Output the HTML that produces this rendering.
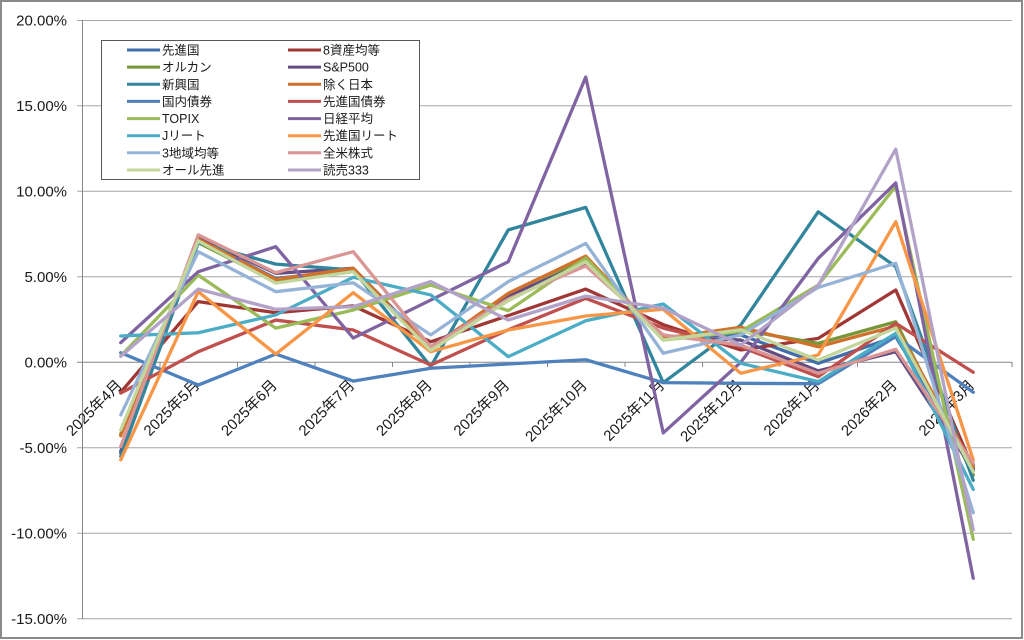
<!DOCTYPE html>
<html><head><meta charset="utf-8"><style>
html,body{margin:0;padding:0;background:#fff;}
svg{display:block;}
text{font-family:"Liberation Sans","Noto Sans CJK JP",sans-serif;fill:#1a1a1a;}
</style></head><body>
<svg width="1024" height="640" viewBox="0 0 1024 640" xmlns="http://www.w3.org/2000/svg">
<rect x="0" y="0" width="1024" height="640" fill="#fff"/>
<rect x="1" y="1" width="1021" height="637" fill="none" stroke="#8a8a8a" stroke-width="2"/>
<g stroke="#a6a6a6" stroke-width="1">
<line x1="77" y1="20.5" x2="1012" y2="20.5"/>
<line x1="77" y1="105.8" x2="1012" y2="105.8"/>
<line x1="77" y1="191.3" x2="1012" y2="191.3"/>
<line x1="77" y1="276.8" x2="1012" y2="276.8"/>
<line x1="77" y1="447.8" x2="1012" y2="447.8"/>
<line x1="77" y1="533.3" x2="1012" y2="533.3"/>
<line x1="77" y1="618.8" x2="1012" y2="618.8"/>
</g>
<g stroke="#868686" stroke-width="1">
<line x1="82.5" y1="20" x2="82.5" y2="619"/>
<line x1="77" y1="362.3" x2="1012" y2="362.3"/>
<line x1="160" y1="362" x2="160" y2="367"/>
<line x1="237.5" y1="362" x2="237.5" y2="367"/>
<line x1="315" y1="362" x2="315" y2="367"/>
<line x1="392.5" y1="362" x2="392.5" y2="367"/>
<line x1="470" y1="362" x2="470" y2="367"/>
<line x1="547.5" y1="362" x2="547.5" y2="367"/>
<line x1="625" y1="362" x2="625" y2="367"/>
<line x1="702.5" y1="362" x2="702.5" y2="367"/>
<line x1="780" y1="362" x2="780" y2="367"/>
<line x1="857.5" y1="362" x2="857.5" y2="367"/>
<line x1="935" y1="362" x2="935" y2="367"/>
<line x1="1012" y1="362" x2="1012" y2="367"/>
</g>
<g font-size="15" text-anchor="end">
<text x="67" y="25.5">20.00%</text>
<text x="67" y="111">15.00%</text>
<text x="67" y="196.5">10.00%</text>
<text x="67" y="282">5.00%</text>
<text x="67" y="367.5">0.00%</text>
<text x="67" y="453">-5.00%</text>
<text x="67" y="538.5">-10.00%</text>
<text x="67" y="624">-15.00%</text>
</g>
<g font-size="15" text-anchor="end">
<text transform="translate(123,386) rotate(-45)">2025年4月</text>
<text transform="translate(200.5,386) rotate(-45)">2025年5月</text>
<text transform="translate(278,386) rotate(-45)">2025年6月</text>
<text transform="translate(355.5,386) rotate(-45)">2025年7月</text>
<text transform="translate(433,386) rotate(-45)">2025年8月</text>
<text transform="translate(510.5,386) rotate(-45)">2025年9月</text>
<text transform="translate(588,386) rotate(-45)">2025年10月</text>
<text transform="translate(665.5,386) rotate(-45)">2025年11月</text>
<text transform="translate(743,386) rotate(-45)">2025年12月</text>
<text transform="translate(820.5,386) rotate(-45)">2026年1月</text>
<text transform="translate(898,386) rotate(-45)">2026年2月</text>
<text transform="translate(975.5,386) rotate(-45)">2026年3月</text>
</g>
<g transform="matrix(77.5,0,0,-17.1,120.75,362.3)" fill="none" stroke-linejoin="round" stroke-linecap="round">
<g stroke-width="3.3">
<polyline vector-effect="non-scaling-stroke" stroke="#3f6eaa" points="0,-5.2 1,7.2 2,4.9 3,5.4 4,0.9 5,3.8 6,6.0 7,1.5 8,1.6 9,-0.06 10,1.5 11,-6.0"/>
<polyline vector-effect="non-scaling-stroke" stroke="#a03734" points="0,-1.75 1,3.55 2,2.9 3,3.3 4,1.2 5,2.73 6,4.28 7,2.2 8,0.72 9,1.4 10,4.23 11,-6.2"/>
<polyline vector-effect="non-scaling-stroke" stroke="#77963a" points="0,-4.2 1,7.0 2,4.7 3,5.3 4,0.8 5,3.8 6,6.0 7,1.4 8,1.9 9,1.11 10,2.37 11,-6.6"/>
<polyline vector-effect="non-scaling-stroke" stroke="#634c82" points="0,-5.3 1,7.3 2,5.2 3,5.5 4,0.9 5,3.9 6,5.8 7,1.5 8,1.3 9,-0.5 10,0.62 11,-6.3"/>
<polyline vector-effect="non-scaling-stroke" stroke="#31859c" points="0,-5.5 1,7.0 2,5.74 3,5.4 4,-0.25 5,7.74 6,9.06 7,-1.19 8,2.18 9,8.8 10,5.59 11,-6.9"/>
<polyline vector-effect="non-scaling-stroke" stroke="#d0722c" points="0,-4.3 1,7.2 2,4.85 3,5.5 4,0.8 5,4.03 6,6.21 7,1.4 8,2.05 9,0.91 10,2.12 11,-6.1"/>
<polyline vector-effect="non-scaling-stroke" stroke="#4f81bd" points="0,0.56 1,-1.33 2,0.48 3,-1.1 4,-0.35 5,-0.1 6,0.15 7,-1.19 8,-1.23 9,-1.25 10,1.5 11,-1.75"/>
<polyline vector-effect="non-scaling-stroke" stroke="#c0504d" points="0,-1.8 1,0.62 2,2.47 3,1.89 4,-0.16 5,1.9 6,3.74 7,2.0 8,0.9 9,-0.84 10,2.28 11,-0.58"/>
<polyline vector-effect="non-scaling-stroke" stroke="#9bbb59" points="0,0.37 1,5.1 2,2.0 3,3.06 4,4.52 5,3.02 6,6.1 7,1.3 8,1.8 9,4.52 10,10.3 11,-10.35"/>
<polyline vector-effect="non-scaling-stroke" stroke="#8064a2" points="0,1.15 1,5.3 2,6.76 3,1.42 4,3.64 5,5.88 6,16.68 7,-4.13 8,0.0 9,6.08 10,10.49 11,-12.63"/>
<polyline vector-effect="non-scaling-stroke" stroke="#4bacc6" points="0,1.54 1,1.73 2,2.77 3,4.97 4,3.94 5,0.33 6,2.43 7,3.41 8,-0.06 9,-1.13 10,1.7 11,-7.43"/>
<polyline vector-effect="non-scaling-stroke" stroke="#f79646" points="0,-5.7 1,4.13 2,0.48 3,4.07 4,0.62 5,1.89 6,2.71 7,3.1 8,-0.64 9,0.43 10,8.22 11,-5.71"/>
<polyline vector-effect="non-scaling-stroke" stroke="#95b3d7" points="0,-3.08 1,6.47 2,4.13 3,4.65 4,1.6 5,4.72 6,6.95 7,0.53 8,1.6 9,4.38 10,5.79 11,-8.8"/>
<polyline vector-effect="non-scaling-stroke" stroke="#d99694" points="0,-4.93 1,7.45 2,5.24 3,6.47 4,0.9 5,3.7 6,5.63 7,1.6 8,1.0 9,-0.64 10,0.76 11,-5.9"/>
<polyline vector-effect="non-scaling-stroke" stroke="#c3d69b" points="0,-3.96 1,7.1 2,4.63 3,5.3 4,0.7 5,3.6 6,5.88 7,1.3 8,1.9 9,0.13 10,2.0 11,-6.4"/>
<polyline vector-effect="non-scaling-stroke" stroke="#b3a2c7" points="0,0.35 1,4.28 2,3.1 3,3.25 4,4.72 5,2.47 6,3.87 7,3.17 8,1.01 9,4.5 10,12.47 11,-9.8"/>
</g>
</g>
<rect x="101.5" y="40.5" width="318" height="139" fill="#fff" stroke="#595959" stroke-width="1"/>
<g stroke-width="3">
<line x1="127" y1="50" x2="160" y2="50" stroke="#3f6eaa"/>
<line x1="288" y1="50" x2="321" y2="50" stroke="#a03734"/>
<line x1="127" y1="67.1" x2="160" y2="67.1" stroke="#77963a"/>
<line x1="288" y1="67.1" x2="321" y2="67.1" stroke="#634c82"/>
<line x1="127" y1="84.3" x2="160" y2="84.3" stroke="#31859c"/>
<line x1="288" y1="84.3" x2="321" y2="84.3" stroke="#d0722c"/>
<line x1="127" y1="101.4" x2="160" y2="101.4" stroke="#4f81bd"/>
<line x1="288" y1="101.4" x2="321" y2="101.4" stroke="#c0504d"/>
<line x1="127" y1="118.6" x2="160" y2="118.6" stroke="#9bbb59"/>
<line x1="288" y1="118.6" x2="321" y2="118.6" stroke="#8064a2"/>
<line x1="127" y1="135.7" x2="160" y2="135.7" stroke="#4bacc6"/>
<line x1="288" y1="135.7" x2="321" y2="135.7" stroke="#f79646"/>
<line x1="127" y1="152.8" x2="160" y2="152.8" stroke="#95b3d7"/>
<line x1="288" y1="152.8" x2="321" y2="152.8" stroke="#d99694"/>
<line x1="127" y1="170" x2="160" y2="170" stroke="#c3d69b"/>
<line x1="288" y1="170" x2="321" y2="170" stroke="#b3a2c7"/>
</g>
<g font-size="12.5">
<text x="162" y="54.5">先進国</text>
<text x="323" y="54.5">8資産均等</text>
<text x="162" y="71.6">オルカン</text>
<text x="323" y="71.6">S&amp;P500</text>
<text x="162" y="88.8">新興国</text>
<text x="323" y="88.8">除く日本</text>
<text x="162" y="105.9">国内債券</text>
<text x="323" y="105.9">先進国債券</text>
<text x="162" y="123.1">TOPIX</text>
<text x="323" y="123.1">日経平均</text>
<text x="162" y="140.2">Jリート</text>
<text x="323" y="140.2">先進国リート</text>
<text x="162" y="157.3">3地域均等</text>
<text x="323" y="157.3">全米株式</text>
<text x="162" y="174.5">オール先進</text>
<text x="323" y="174.5">読売333</text>
</g>
</svg>
</body></html>
